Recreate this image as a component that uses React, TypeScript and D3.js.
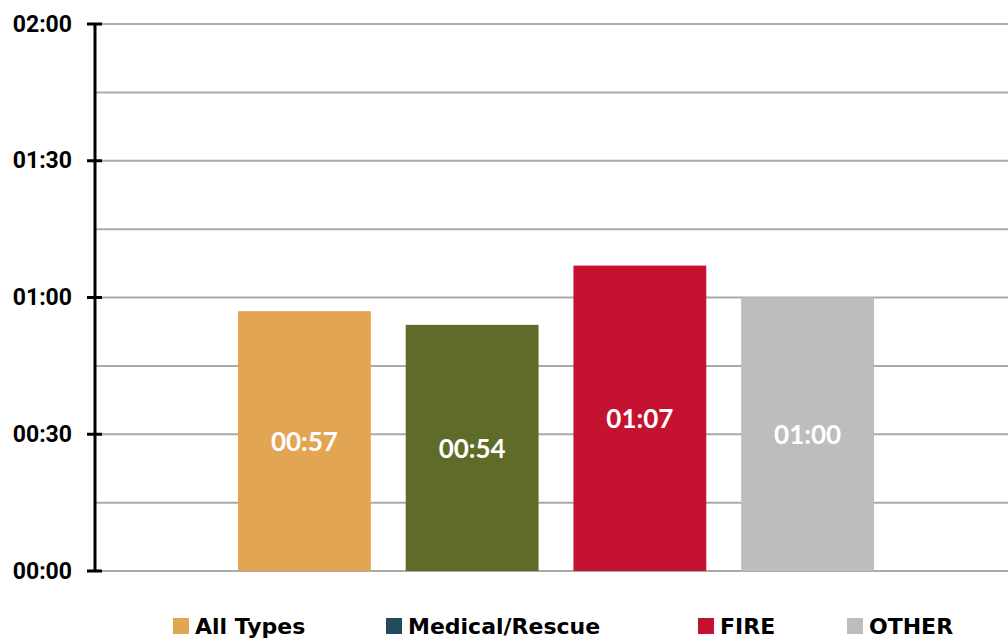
import React from "react";
import * as d3 from "d3";

const series = ["All Types", "Medical/Rescue", "FIRE", "OTHER"];
// average times in seconds
const values = [57, 54, 67, 60];
const barColors = ["#E2A553", "#5F6B29", "#C41230", "#BDBDBD"];
const legendColors = ["#E2A553", "#234A5E", "#C41230", "#BDBDBD"];
const tickValues = [0, 30, 60, 90, 120];
const gridValues = [0, 15, 30, 45, 60, 75, 90, 105, 120];

const W = 1008;
const H = 641;

const fmt = (s: number) => {
  const m = Math.floor(s / 60);
  const r = Math.round(s % 60);
  return `${String(m).padStart(2, "0")}:${String(r).padStart(2, "0")}`;
};

export default function App() {
  const y = d3.scaleLinear().domain([0, 120]).range([571, 24]);
  const x = d3
    .scaleBand<string>()
    .domain(series)
    .range([238, 874])
    .paddingInner(0.208)
    .paddingOuter(0);

  const axisX = 95;
  const legendX = [173, 386, 698, 847];

  return (
    <svg
      width={W}
      height={H}
      style={{ position: "absolute", left: 0, top: 0, background: "#fff" }}
    >
      {gridValues.map((v) => (
        <line
          key={v}
          x1={axisX}
          x2={W}
          y1={y(v)}
          y2={y(v)}
          stroke="#AAAAAA"
          strokeWidth={2}
        />
      ))}
      {series.map((s, i) => (
        <rect
          key={s}
          x={x(s)}
          y={y(values[i])}
          width={x.bandwidth()}
          height={y(0) - y(values[i])}
          fill={barColors[i]}
        />
      ))}
      {series.map((s, i) => (
        <text
          key={s}
          x={(x(s) as number) + x.bandwidth() / 2}
          y={(y(values[i]) + y(0)) / 2}
          textAnchor="middle"
          dominantBaseline="central"
          fill="#fff"
          fontFamily="Lato, sans-serif"
          fontWeight="bold"
          fontSize={26}
        >
          {fmt(values[i])}
        </text>
      ))}
      <line x1={axisX} x2={axisX} y1={y(120)} y2={y(0)} stroke="#000" strokeWidth={3} />
      {tickValues.map((v) => (
        <g key={v}>
          <line x1={87} x2={102} y1={y(v)} y2={y(v)} stroke="#000" strokeWidth={3} />
          <text
            x={72}
            y={y(v)}
            textAnchor="end"
            dominantBaseline="central"
            fontFamily="Roboto, sans-serif"
            fontWeight="bold"
            fontSize={23}
            fill="#000"
          >
            {fmt(v)}
          </text>
        </g>
      ))}
      {series.map((s, i) => (
        <g key={s}>
          <rect x={legendX[i]} y={618} width={16} height={16} fill={legendColors[i]} />
          <text
            x={legendX[i] + 22}
            y={626}
            dominantBaseline="central"
            fontFamily="'DejaVu Sans', sans-serif"
            fontWeight="bold"
            fontSize={22}
            fill="#000"
          >
            {s}
          </text>
        </g>
      ))}
    </svg>
  );
}
